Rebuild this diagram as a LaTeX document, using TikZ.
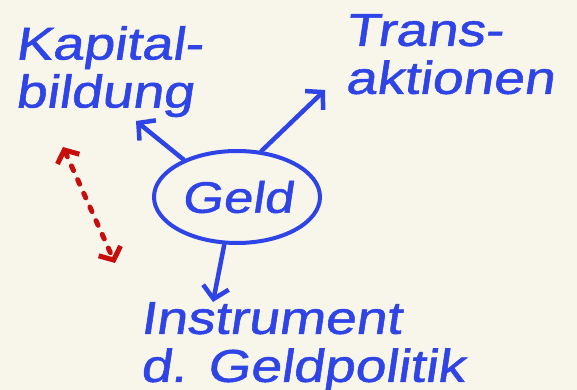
\documentclass[tikz,border=0pt]{standalone}
\usepackage{fontspec}
\newfontfamily\hand[FakeStretch=1.2,FakeSlant=0.15,FakeBold=1.2]{Liberation Sans}
\usetikzlibrary{arrows.meta,shapes.geometric}
\definecolor{paper}{HTML}{F8F5EB}
\definecolor{ink}{HTML}{2F44E6}
\definecolor{redink}{HTML}{C80D0D}
\tikzset{
	word/.style={text=ink,font=\hand\fontsize{46}{48}\selectfont,align=left,inner sep=0pt,anchor=north west},
	pen/.style={draw=ink,line width=4.5pt,line cap=round,-{Straight Barb[length=12pt,width=26pt]}},
}
\begin{document}
\begin{tikzpicture}[x=1pt,y=1pt]
	\fill[paper] (0,0) rectangle (577,390);
	\useasboundingbox (0,0) rectangle (577,390);

	% TEXTS
	\node[word] (kap) at (15,364) {Kapital-\\bildung};
	\node[word] (trans) at (345,376) {Trans-\\aktionen};
	\node[word] (instr) at (140,88) {Instrument\\d. Geldpolitik};

	% GELD
	\node[ellipse,draw=ink,line width=4pt,minimum width=166pt,minimum height=92pt,
		text=ink,font=\hand\fontsize{44}{48}\selectfont,inner sep=0pt] (geld) at (237,193) {Geld};

	% ARROWS
	\coordinate (kaptip) at (136,269);
	\coordinate (transtip) at (325,300);
	\coordinate (instrtip) at (213,88);
	\draw[pen] (geld.145) -- (kaptip);
	\draw[pen] (geld.62) -- (transtip);
	\draw[pen] (geld.-105) -- (instrtip);

	% RED
	\coordinate (r1) at (63,243);
	\coordinate (r2) at (115,127);
	\draw[redink,line width=5pt,line cap=round,dash pattern=on 5pt off 10pt,
		{Straight Barb[length=10pt,width=24pt]}-{Straight Barb[length=10pt,width=24pt]}] (r1) -- (r2);
\end{tikzpicture}
\end{document}
